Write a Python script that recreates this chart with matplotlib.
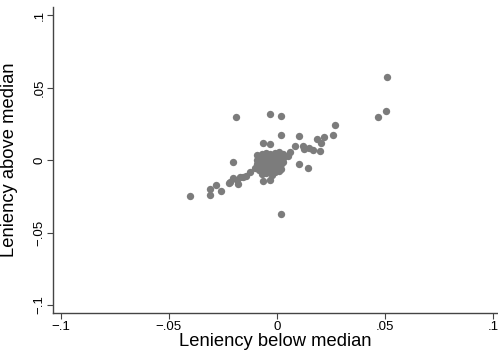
import numpy as np
from matplotlib import pyplot as plt

plt.rcParams['font.family'] = ['Liberation Sans', 'DejaVu Sans']

# Pontos (em milésimos): leniência abaixo x acima da mediana
below = [51, 50.5, 47, -19, -3, 2, 27, 2, 10.5, 22, 26, 18.5, -6.5, -3, 20.5,
         8.5, 12, 15, 17, 20, 12.5, 6, 5, -20, 10.5, 14.5, -6.5, -3, 2,
         -12.5, -14, -15.5, -17, -18.5, -20, -21.5, -22, -18, -26, -28, -31, -31, -40, -10,
         -9, -8, -7, -5, -3, -1, 1, 3, -9, -7, -5, -3, -1, 1, 3,
         -9, -7, -5, -3, -1, 1, 3, -8, -6, -4, -2, 0, 2, -8, -6, -4, -2, 0, 2,
         -7, -5, -3, -1, 1, -2, -4, 0, -6, 2, -5, 0, -0.5]
above = [57.5, 34, 30, 29.5, 31.5, 30.5, 24.5, 17.5, 16.5, 16, 17, 14.5, 12, 11, 11.5,
         10, 10, 8.5, 7, 6.5, 7.5, 5.5, 3, -1.5, -2.5, -5.5, -14.5, -14, -37.5,
         -8, -11, -11.5, -12, -14, -12.5, -15, -16, -16.5, -21, -17, -20, -24, -25, -5.5,
         3.5, 2, 4, 5, 4.5, 5, 5.5, 4, 0, 1, 2, 2, 2.5, 2, 1.5,
         -2.5, -1.5, -0.5, 0, 0.5, 0, -1, -4.5, -4, -3, -2, -2.5, -3, -7, -6.5, -6, -5, -5.5, -6,
         -9.5, -9, -8, -8, -7.5, -10, -1.5, 1, 3, 0.5, 3, -1, -3.5]

x = np.array(below) / 1000
y = np.array(above) / 1000

ticks = [-0.1, -0.05, 0, 0.05, 0.1]
tick_labels = ['\u2212.1', '\u2212.05', '0', '.05', '.1']

fig = plt.figure(figsize = (4.98, 3.56), dpi = 100)
ax = fig.add_axes([0.1064, 0.1208, 0.892, 0.859])

ax.scatter(x, y, s = 28, color = '#7c7c7c', linewidths = 0, zorder = 3)

ax.set_xlim(-0.1035, 0.102)
ax.set_ylim(-0.1055, 0.1055)
ax.set_xticks(ticks)
ax.set_xticklabels(tick_labels)
ax.set_yticks(ticks)
ax.set_yticklabels(tick_labels, rotation = 90, va = 'center')

for s in ['top', 'right']:
    ax.spines[s].set_visible(False)
for s in ['left', 'bottom']:
    ax.spines[s].set_color('#444444')
    ax.spines[s].set_linewidth(1.0)

ax.tick_params(direction = 'out', length = 4, width = 0.8, color = '#444444',
               labelsize = 9.5, pad = 1.5)

ax.set_xlabel('Leniency below median', fontsize = 13.2, labelpad = 0)
ax.set_ylabel('Leniency above median', fontsize = 13.2, va = 'center')
ax.yaxis.set_label_coords(-0.097, 0.5)

fig.savefig('out.png', dpi = 100)
